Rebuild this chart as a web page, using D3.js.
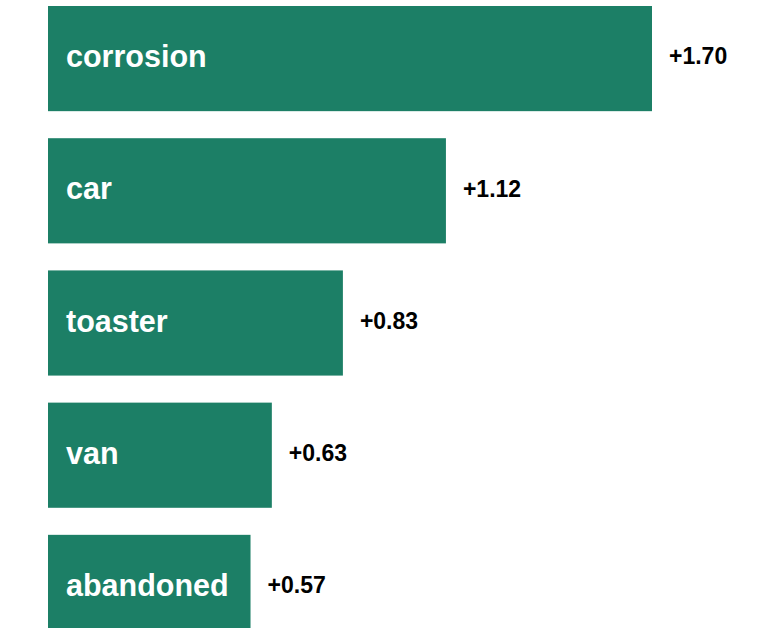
<!DOCTYPE html>
<html>
<head>
<meta charset="utf-8">
<script src="https://cdn.jsdelivr.net/npm/d3@7"></script>
<style>
  html, body { margin: 0; padding: 0; background: #ffffff; }
  svg { display: block; }
</style>
</head>
<body>
<svg id="chart" width="764" height="628"></svg>
<script>
// Terms and their scores
const terms = ["corrosion", "car", "toaster", "van", "abandoned"];
const scores = [1.70, 1.12, 0.83, 0.63, 0.57];

const width = 764, height = 628;
const barColor = "#1c7f66";

const svg = d3.select("#chart");

const x = d3.scaleLinear()
  .domain([0, 1.70])
  .range([48, 652]);

const y = d3.scaleBand()
  .domain(terms)
  .range([6, 640])
  .paddingInner(27 / 132)
  .paddingOuter(0);

const rows = terms.map((t, i) => ({ term: t, score: scores[i] }));

const g = svg.selectAll("g.row")
  .data(rows)
  .join("g")
  .attr("class", "row");

g.append("rect")
  .attr("x", x(0))
  .attr("y", d => y(d.term))
  .attr("width", d => x(d.score) - x(0))
  .attr("height", y.bandwidth())
  .attr("fill", barColor);

g.append("text")
  .attr("x", x(0) + 18)
  .attr("y", d => y(d.term) + y.bandwidth() / 2)
  .attr("dy", "0.28em")
  .attr("fill", "#ffffff")
  .attr("font-family", "'Liberation Sans', Arial, Helvetica, sans-serif")
  .attr("font-weight", "bold")
  .attr("font-size", 30.5)
  .text(d => d.term);

g.append("text")
  .attr("x", d => x(d.score) + 17)
  .attr("y", d => y(d.term) + y.bandwidth() / 2)
  .attr("dy", "0.25em")
  .attr("fill", "#000000")
  .attr("font-family", "'Liberation Sans', Arial, Helvetica, sans-serif")
  .attr("font-weight", "bold")
  .attr("font-size", 23)
  .text(d => "+" + d3.format(".2f")(d.score));
</script>
</body>
</html>
